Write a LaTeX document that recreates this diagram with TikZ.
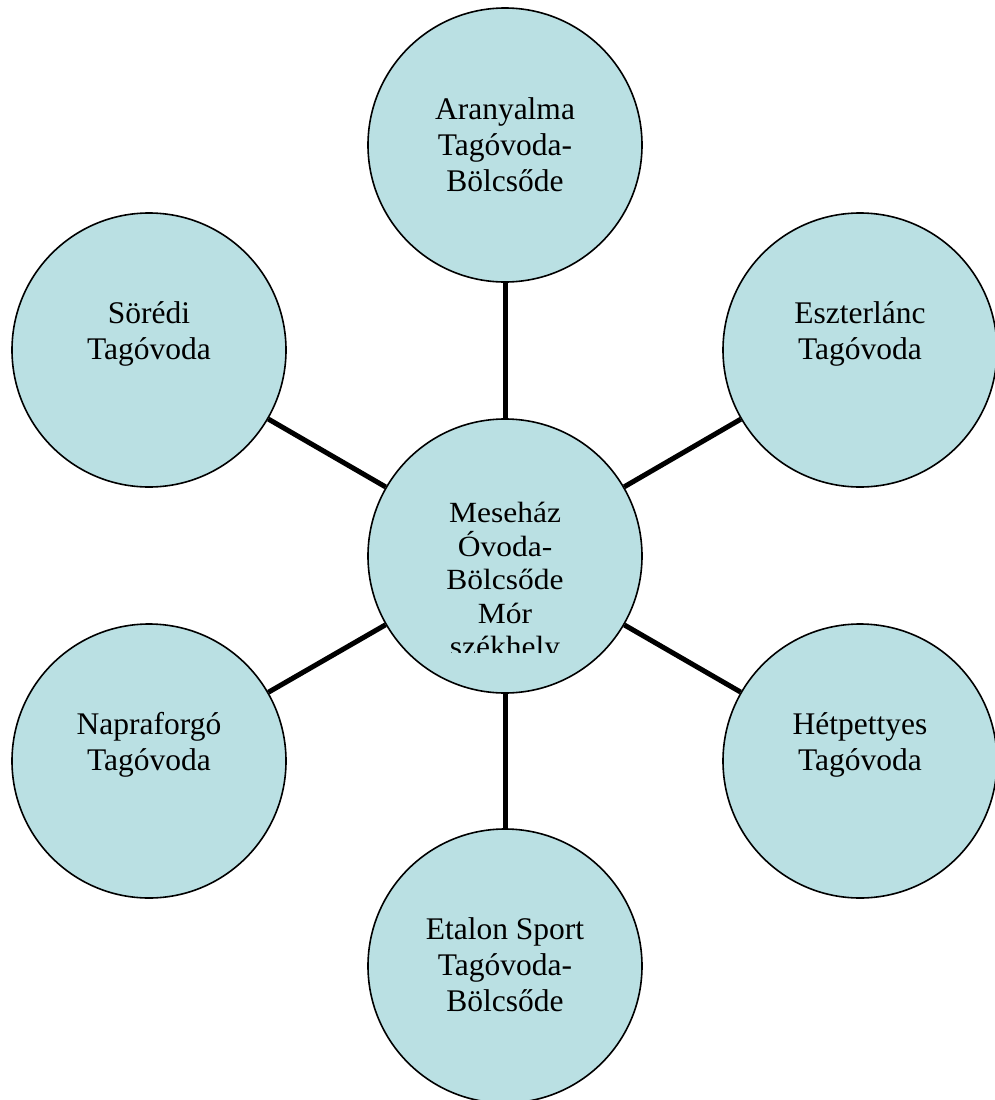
\documentclass[tikz,border=0pt]{standalone}
\usepackage{fontspec}
\setmainfont{Liberation Serif}
\definecolor{bubblefill}{RGB}{186,224,227}
\begin{document}
\begin{tikzpicture}[x=1pt,y=-1pt,
  bubble/.style={circle,draw=black,line width=1.6pt,fill=bubblefill,minimum size=274pt,inner sep=0pt},
  bubbletext/.style={anchor=north,align=center,inner sep=0pt,font=\fontsize{31.5}{36}\selectfont},
  link/.style={line width=5pt,draw=black}]
\clip (0,0) rectangle (995,1100);
\fill[white] (0,0) rectangle (995,1100);
% circles
\node[bubble] (c)   at (505,556) {};
\node[bubble] (top) at (505,145) {};
\node[bubble] (ul)  at (149,350) {};
\node[bubble] (ur)  at (860,350) {};
\node[bubble] (ll)  at (149,761) {};
\node[bubble] (lr)  at (860,761) {};
\node[bubble] (bot) at (505,966) {};
% connectors
\draw[link] (c) -- (top);
\draw[link] (c) -- (ul);
\draw[link] (c) -- (ur);
\draw[link] (c) -- (ll);
\draw[link] (c) -- (lr);
\draw[link] (c) -- (bot);
% texts
\node[bubbletext] (ttop) at (505,97) {Aranyalma\\Tagóvoda-\\Bölcsőde};
\node[bubbletext] (tul)  at (149,301) {Sörédi\\Tagóvoda};
\node[bubbletext] (tur)  at (860,301) {Eszterlánc\\Tagóvoda};
\node[bubbletext] (tll)  at (149,712) {Napraforgó\\Tagóvoda};
\node[bubbletext] (tlr)  at (860,712) {Hétpettyes\\Tagóvoda};
\node[bubbletext] (tbot) at (505,917) {Etalon Sport\\Tagóvoda-\\Bölcsőde};
\begin{scope}
  \clip (367,480) rectangle (643,652);
  \begin{scope}[shift={(505,502)},yscale=0.93]
    \node[bubbletext,transform shape] (tc) at (0,0) {Meseház\\Óvoda-\\Bölcsőde\\Mór\\székhely};
  \end{scope}
\end{scope}
\end{tikzpicture}
\end{document}
